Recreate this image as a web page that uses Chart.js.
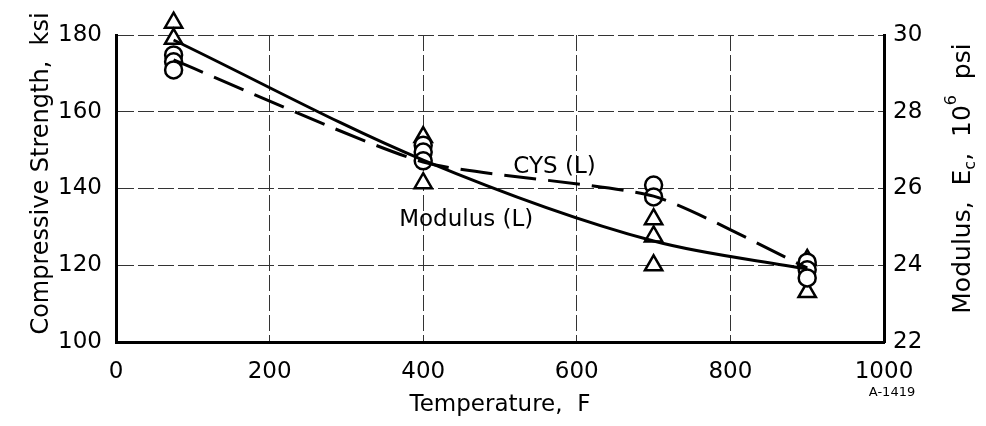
<!DOCTYPE html>
<html>
<head>
<meta charset="utf-8">
<script src="https://cdn.jsdelivr.net/npm/chart.js@4.4.0/dist/chart.umd.min.js"></script>
<style>
  html, body { margin: 0; padding: 0; background: #fff; }
</style>
</head>
<body>
<canvas id="myChart" width="986" height="426"></canvas>
<script>
// measured points, temperature in F
const cysPointTemp = [75, 75, 75, 400, 400, 400, 700, 700, 900, 900, 900];
const cysPoints = [174.8, 173.0, 170.9, 151.3, 149.5, 147.2, 140.9, 137.8, 120.8, 118.8, 116.7]; // ksi
const modPointTemp = [75, 75, 400, 400, 700, 700, 700, 900, 900];
const modPoints = [30.32, 29.9, 27.34, 26.14, 25.2, 24.75, 24.0, 24.14, 23.3]; // 10^6 psi

// faired curves
const fitTemp = [75, 400, 700, 900];
const cysFit = [173.5, 146.9, 138.0, 119.3];
const modFit = [29.87, 26.74, 24.63, 23.9];

// axes
const xTicks = [0, 200, 400, 600, 800, 1000];
const leftTicks = [100, 120, 140, 160, 180];
const rightTicks = [22, 24, 26, 28, 30];

// curve labels (data coords)
const noteText = ['CYS (L)', 'Modulus (L)'];
const noteTemp = [571, 456];
const noteKsi = [145.6, 131.8];

const FONT = '"DejaVu Sans", sans-serif';

const toXY = (xs, ys) => xs.map((x, i) => ({ x: x, y: ys[i] }));

// draws rotated text pieces (reading bottom to top), pieces can be sub/superscript
function drawVertical(ctx, x, y, parts) {
  let total = 0;
  parts.forEach(p => { ctx.font = p.size + 'px ' + FONT; p.w = ctx.measureText(p.t).width; total += p.w; });
  ctx.save();
  ctx.translate(x, y);
  ctx.rotate(-Math.PI / 2);
  ctx.textAlign = 'left';
  ctx.textBaseline = 'middle';
  let pos = -total / 2;
  parts.forEach(p => {
    ctx.font = p.size + 'px ' + FONT;
    ctx.fillText(p.t, pos, p.dy);
    pos += p.w;
  });
  ctx.restore();
}

// curve labels, drawing number and the two axis titles
const extras = {
  id: 'extras',
  afterDraw(chart) {
    const { ctx, scales } = chart;
    ctx.save();
    ctx.fillStyle = '#000';
    ctx.textAlign = 'center';
    ctx.textBaseline = 'middle';
    ctx.font = '23px ' + FONT;
    noteText.forEach((t, i) => {
      ctx.fillText(t, scales.x.getPixelForValue(noteTemp[i]), scales.y.getPixelForValue(noteKsi[i]));
    });

    ctx.font = '13px ' + FONT;
    ctx.fillText('A-1419', scales.x.right + 8, 393);

    const mid = (scales.y.top + scales.y.bottom) / 2;
    drawVertical(ctx, 42, mid - 15, [
      { t: 'Compressive Strength,  ksi', size: 24, dy: 0 }
    ]);
    drawVertical(ctx, 963, mid - 10, [
      { t: 'Modulus,  E', size: 25, dy: 0 },
      { t: 'c', size: 16, dy: 8 },
      { t: ',  10', size: 25, dy: 0 },
      { t: '6', size: 16, dy: -11 },
      { t: '  psi', size: 25, dy: 0 }
    ]);
    ctx.restore();
  }
};

const gridStyle = { color: '#333', lineWidth: 1, drawTicks: false };
const borderStyle = { color: '#000', width: 3, dash: [16, 4] };

new Chart(document.getElementById('myChart'), {
  type: 'line',
  data: {
    datasets: [
      {
        label: 'CYS (L)',
        data: toXY(fitTemp, cysFit),
        yAxisID: 'y',
        borderColor: '#000',
        borderWidth: 3,
        borderDash: [32, 12],
        tension: 0.2,
        pointRadius: 0,
        fill: false
      },
      {
        label: 'Modulus (L)',
        data: toXY(fitTemp, modFit),
        yAxisID: 'y2',
        borderColor: '#000',
        borderWidth: 3,
        cubicInterpolationMode: 'monotone',
        pointRadius: 0,
        fill: false
      },
      {
        label: 'CYS data',
        data: toXY(cysPointTemp, cysPoints),
        yAxisID: 'y',
        showLine: false,
        pointStyle: 'circle',
        pointRadius: 8.5,
        pointBorderWidth: 2.5,
        pointBorderColor: '#000',
        pointBackgroundColor: '#fff',
        clip: false
      },
      {
        label: 'Modulus data',
        data: toXY(modPointTemp, modPoints),
        yAxisID: 'y2',
        showLine: false,
        pointStyle: 'triangle',
        pointRadius: 10,
        pointBorderWidth: 2.5,
        pointBorderColor: '#000',
        pointBackgroundColor: '#fff',
        clip: false
      }
    ]
  },
  options: {
    responsive: false,
    animation: false,
    layout: { padding: { top: 35, left: 0, right: 0, bottom: 0 } },
    plugins: { legend: { display: false }, tooltip: { enabled: false } },
    scales: {
      x: {
        type: 'linear',
        min: xTicks[0],
        max: xTicks[xTicks.length - 1],
        afterBuildTicks: s => { s.ticks = xTicks.map(v => ({ value: v })); },
        afterFit: s => { s.height = 84; },
        grid: gridStyle,
        border: borderStyle,
        ticks: { color: '#000', padding: 16, font: { family: FONT, size: 23 }, callback: v => String(v) },
        title: {
          display: true,
          text: 'Temperature,  F',
          color: '#000',
          font: { family: FONT, size: 23 },
          padding: { bottom: 7 }
        }
      },
      y: {
        position: 'left',
        min: leftTicks[0],
        max: leftTicks[leftTicks.length - 1],
        afterBuildTicks: s => { s.ticks = leftTicks.map(v => ({ value: v })); },
        afterFit: s => { s.width = 116; },
        grid: gridStyle,
        border: borderStyle,
        ticks: { color: '#000', padding: 14, font: { family: FONT, size: 23 } }
      },
      y2: {
        position: 'right',
        min: rightTicks[0],
        max: rightTicks[rightTicks.length - 1],
        afterBuildTicks: s => { s.ticks = rightTicks.map(v => ({ value: v })); },
        afterFit: s => { s.width = 102; },
        grid: { drawOnChartArea: false, drawTicks: false },
        border: { color: '#000', width: 3 },
        ticks: { color: '#000', padding: 9, font: { family: FONT, size: 23 } }
      }
    }
  },
  plugins: [extras]
});
</script>
</body>
</html>
